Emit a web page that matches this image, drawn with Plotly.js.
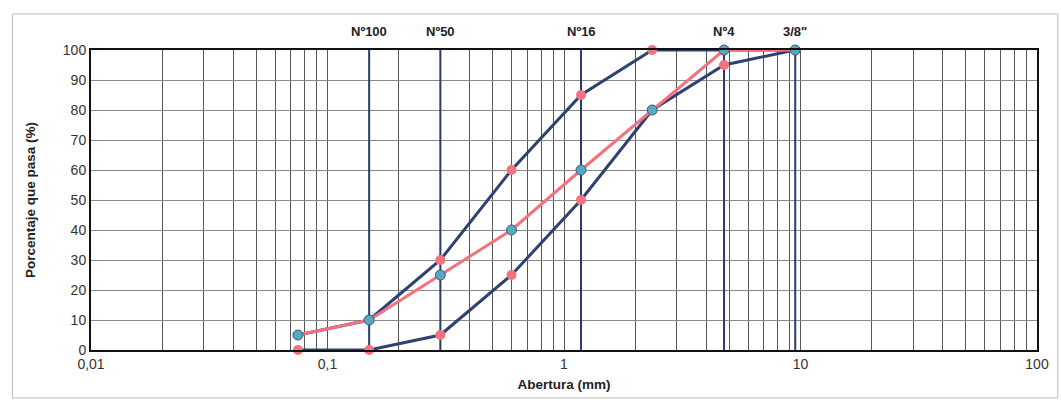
<!DOCTYPE html>
<html>
<head>
<meta charset="utf-8">
<script src="https://cdn.plot.ly/plotly-3.0.1.min.js"></script>
<style>html,body{margin:0;padding:0;background:#fff;}#chart{width:1061px;height:406px;}</style>
</head>
<body>
<div id="chart"></div>
<script>
// Sieve openings (mm)
const sieves = [0.075, 0.15, 0.3, 0.6, 1.18, 2.36, 4.75, 9.5];
// Upper limit (% passing)
const upperLimit = [5, 10, 30, 60, 85, 100, 100, 100];
// Lower limit (% passing)
const lowerLimit = [0, 0, 5, 25, 50, 80, 95, 100];
// Sample gradation (% passing)
const sample = [5, 10, 25, 40, 60, 80, 100, 100];

// Labelled sieve lines
const sieveLineX = [0.15, 0.3, 1.18, 4.75, 9.5];
const sieveLabels = ['Nº100', 'Nº50', 'Nº16', 'Nº4', '3/8"'];

// X tick values (log grid) and labels
const decadeTicks = [0.01, 0.1, 1, 10, 100];
const decadeLabels = ['0,01', '0,1', '1', '10', '100'];
const yTicks = [0, 10, 20, 30, 40, 50, 60, 70, 80, 90, 100];

const gridVals = [];
const gridText = [];
[0.01, 0.1, 1, 10].forEach(d => {
  for (let k = 1; k <= 9; k++) {
    const v = +(d * k).toPrecision(3);
    gridVals.push(v);
    const i = decadeTicks.indexOf(v);
    gridText.push(i >= 0 ? decadeLabels[i] : '');
  }
});
gridVals.push(100); gridText.push('100');

const navy = '#2f4170';
const pink = '#f2737f';
const teal = '#5aa7c4';

const traces = [];
sieveLineX.forEach(x => {
  traces.push({x: [x, x], y: [0, 100], mode: 'lines', line: {color: '#2b3a68', width: 2}, hoverinfo: 'skip', showlegend: false});
});
traces.push({
  x: sieves, y: upperLimit, mode: 'lines+markers', name: 'Límite superior',
  line: {color: navy, width: 3}, marker: {color: pink, size: 10}, showlegend: false, cliponaxis: false
});
traces.push({
  x: sieves, y: lowerLimit, mode: 'lines+markers', name: 'Límite inferior',
  line: {color: navy, width: 3}, marker: {color: pink, size: 10}, showlegend: false, cliponaxis: false
});
traces.push({
  x: sieves, y: sample, mode: 'lines+markers', name: 'Muestra',
  line: {color: pink, width: 3}, marker: {color: teal, size: 10, line: {color: '#3a5f7a', width: 1}}, showlegend: false, cliponaxis: false
});

const annotations = sieveLineX.map((x, i) => ({
  x: Math.log10(x), xref: 'x', y: 1, yref: 'paper', yshift: 19,
  text: '<b>' + sieveLabels[i] + '</b>', showarrow: false,
  font: {family: 'Liberation Sans, Arial, sans-serif', size: 13, color: '#222'},
  xanchor: 'center', yanchor: 'middle'
}));

const layout = {
  width: 1061, height: 406,
  margin: {l: 91, r: 24, t: 50, b: 56},
  paper_bgcolor: '#fff', plot_bgcolor: '#fff',
  font: {family: 'Liberation Sans, Arial, sans-serif', size: 14, color: '#222'},
  xaxis: {
    type: 'log', range: [-2, 2], tickmode: 'array', tickvals: gridVals, ticktext: gridText,
    showgrid: true, gridcolor: '#555', gridwidth: 1, ticks: '', zeroline: false,
    showline: true, linecolor: '#111', linewidth: 2, mirror: true,
    tickfont: {size: 14, color: '#333'},
    title: {text: '<b>Abertura (mm)</b>', font: {size: 13.5, color: '#222'}, standoff: 9}
  },
  yaxis: {
    range: [0, 100], tickmode: 'array', tickvals: yTicks,
    showgrid: true, gridcolor: '#888', gridwidth: 1, ticks: '', zeroline: false,
    showline: true, linecolor: '#111', linewidth: 2, mirror: true,
    tickfont: {size: 14, color: '#333'},
    title: {text: '<b>Porcentaje que pasa (%)</b>', font: {size: 13.5, color: '#222'}, standoff: 24}
  },
  annotations: annotations,
  shapes: [
    {type: 'rect', xref: 'paper', yref: 'paper', x0: -0.083, x1: 1.022, y0: -0.16, y1: 1.12,
     line: {color: '#bbb', width: 1}}
  ]
};

Plotly.newPlot('chart', traces, layout, {displayModeBar: false, staticPlot: true});
</script>
</body>
</html>
